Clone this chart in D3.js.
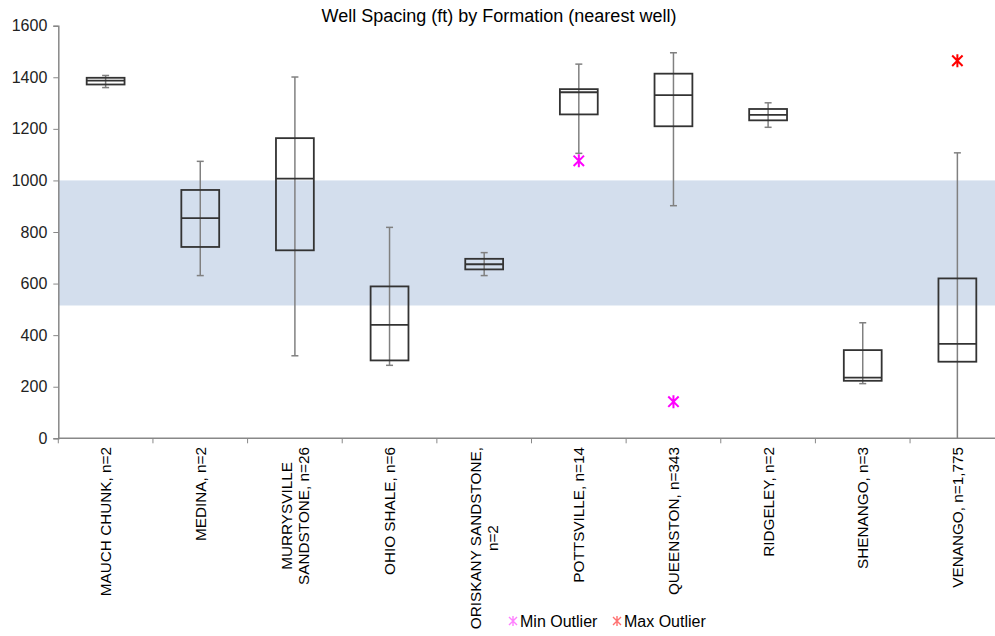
<!DOCTYPE html>
<html>
<head>
<meta charset="utf-8">
<script src="https://cdn.jsdelivr.net/npm/d3@7/dist/d3.min.js"></script>
<style>
  body { margin: 0; background: #fff; }
  svg { display: block; font-family: Arial, "Liberation Sans", sans-serif; }
</style>
</head>
<body>
<svg id="chart" width="995" height="636"></svg>
<script>
// formation labels (already wrapped the way the chart shows them)
const formations = [
  ['MAUCH CHUNK, n=2'],
  ['MEDINA, n=2'],
  ['MURRYSVILLE', 'SANDSTONE, n=26'],
  ['OHIO SHALE, n=6'],
  ['ORISKANY SANDSTONE,', 'n=2'],
  ['POTTSVILLE, n=14'],
  ['QUEENSTON, n=343'],
  ['RIDGELEY, n=2'],
  ['SHENANGO, n=3'],
  ['VENANGO, n=1,775']
];
const mins    = [1360, 631, 320, 283, 631, 1105, 902, 1206, 212, 0];
const q1s     = [1372, 742, 729, 302, 655, 1256, 1210, 1233, 223, 297];
const medians = [1387, 854, 1007, 440, 675, 1342, 1331, 1254, 235, 366];
const q3s     = [1398, 963, 1164, 589, 696, 1354, 1414, 1277, 342, 620];
const maxs    = [1407, 1074, 1401, 818, 720, 1451, 1495, 1301, 448, 1107];
const minOutliers = [null, null, null, null, null, 1076, 142, null, null, null];
const maxOutliers = [null, null, null, null, null, null, null, null, null, 1464];
const targetBand = [515, 1000];
const yTicks = [0, 200, 400, 600, 800, 1000, 1200, 1400, 1600];

const svg = d3.select('#chart');

const x = d3.scaleBand()
  .domain(d3.range(formations.length))
  .range([58.3, 1004.7])
  .padding(0);

const y = d3.scaleLinear()
  .domain([0, 1600])
  .range([438.3, 25.7]);

const boxW = x.bandwidth() * 0.4;
const capW = 7;
const cx = (i) => x(i) + x.bandwidth() / 2;

// shaded target range
svg.append('rect')
  .attr('x', x.range()[0])
  .attr('y', y(targetBand[1]))
  .attr('width', x.range()[1] - x.range()[0])
  .attr('height', y(targetBand[0]) - y(targetBand[1]))
  .attr('fill', '#d3deed');

// title
svg.append('text')
  .attr('x', 499)
  .attr('y', 22)
  .attr('text-anchor', 'middle')
  .attr('font-size', 18)
  .attr('fill', '#000')
  .text('Well Spacing (ft) by Formation (nearest well)');

// y axis
const yAxis = svg.append('g')
  .attr('transform', `translate(${x.range()[0]},0)`)
  .call(d3.axisLeft(y).tickValues(yTicks).tickFormat(d3.format('d')).tickSize(5).tickPadding(6));
yAxis.select('.domain').attr('stroke', '#888').attr('stroke-width', 1.5);
yAxis.selectAll('.tick line').attr('stroke', '#888');
yAxis.selectAll('.tick text').attr('font-size', 16).attr('fill', '#222')
  .attr('font-family', 'Arial, "Liberation Sans", sans-serif');

// x axis line + ticks at band edges
const xAxisG = svg.append('g');
xAxisG.append('line')
  .attr('x1', x.range()[0]).attr('x2', 995)
  .attr('y1', y(0)).attr('y2', y(0))
  .attr('stroke', '#888').attr('stroke-width', 1.5);
xAxisG.selectAll('line.tk')
  .data(d3.range(formations.length + 1))
  .enter().append('line')
  .attr('class', 'tk')
  .attr('x1', (d) => x.range()[0] + d * x.step())
  .attr('x2', (d) => x.range()[0] + d * x.step())
  .attr('y1', y(0)).attr('y2', y(0) + 5)
  .attr('stroke', '#888');

// whiskers
const idx = d3.range(formations.length);
const gBox = svg.append('g');
gBox.selectAll('line.wh')
  .data(idx)
  .enter().append('line')
  .attr('class', 'wh')
  .attr('x1', cx).attr('x2', cx)
  .attr('y1', (i) => y(maxs[i])).attr('y2', (i) => y(mins[i]))
  .attr('stroke', '#808080').attr('stroke-width', 1.5);
[maxs, mins].forEach((arr) => {
  gBox.selectAll(null)
    .data(idx.filter((i) => arr[i] > 0))
    .enter().append('line')
    .attr('x1', (i) => cx(i) - capW / 2).attr('x2', (i) => cx(i) + capW / 2)
    .attr('y1', (i) => y(arr[i])).attr('y2', (i) => y(arr[i]))
    .attr('stroke', '#808080').attr('stroke-width', 1.5);
});

// boxes
gBox.selectAll('rect.box')
  .data(idx)
  .enter().append('rect')
  .attr('class', 'box')
  .attr('x', (i) => cx(i) - boxW / 2)
  .attr('y', (i) => y(q3s[i]))
  .attr('width', boxW)
  .attr('height', (i) => y(q1s[i]) - y(q3s[i]))
  .attr('fill', 'none')
  .attr('stroke', '#333').attr('stroke-width', 1.8);
gBox.selectAll('line.med')
  .data(idx)
  .enter().append('line')
  .attr('class', 'med')
  .attr('x1', (i) => cx(i) - boxW / 2).attr('x2', (i) => cx(i) + boxW / 2)
  .attr('y1', (i) => y(medians[i])).attr('y2', (i) => y(medians[i]))
  .attr('stroke', '#333').attr('stroke-width', 1.8);

// asterisk marker: X with a vertical stroke
function star(g, px, py, r, color, sw) {
  const a = r * 0.8;
  g.append('path')
    .attr('d', `M${px},${py - r}V${py + r}M${px - a},${py - a}L${px + a},${py + a}M${px - a},${py + a}L${px + a},${py - a}`)
    .attr('stroke', color).attr('stroke-width', sw).attr('fill', 'none');
}
idx.forEach((i) => {
  if (minOutliers[i] != null) star(svg, cx(i), y(minOutliers[i]), 6.5, '#ff00ff', 2);
  if (maxOutliers[i] != null) star(svg, cx(i), y(maxOutliers[i]), 6.5, '#ff0000', 2);
});

// rotated category labels
const labelTop = 447;
idx.forEach((i) => {
  const lines = formations[i];
  const t = svg.append('text')
    .attr('transform', `translate(${cx(i)},${labelTop}) rotate(-90)`)
    .attr('font-size', 15.3)
    .attr('fill', '#000')
    .attr('text-anchor', 'middle');
  const ts = lines.map((ln, k) => t.append('tspan')
    .attr('y', (k - (lines.length - 1) / 2) * 17 + 5.5)
    .text(ln));
  const maxLen = d3.max(ts, (s) => s.node().getComputedTextLength());
  ts.forEach((s) => s.attr('x', -maxLen / 2));
});

// legend
const legend = svg.append('g');
const legendItems = [
  { label: 'Min Outlier', color: '#ff80ff', x: 513 },
  { label: 'Max Outlier', color: '#ff7070', x: 617 }
];
legendItems.forEach((d) => {
  star(legend, d.x, 621, 5, d.color, 1.4);
  legend.append('text')
    .attr('x', d.x + 7)
    .attr('y', 627)
    .attr('font-size', 16)
    .attr('fill', '#000')
    .text(d.label);
});
</script>
</body>
</html>
